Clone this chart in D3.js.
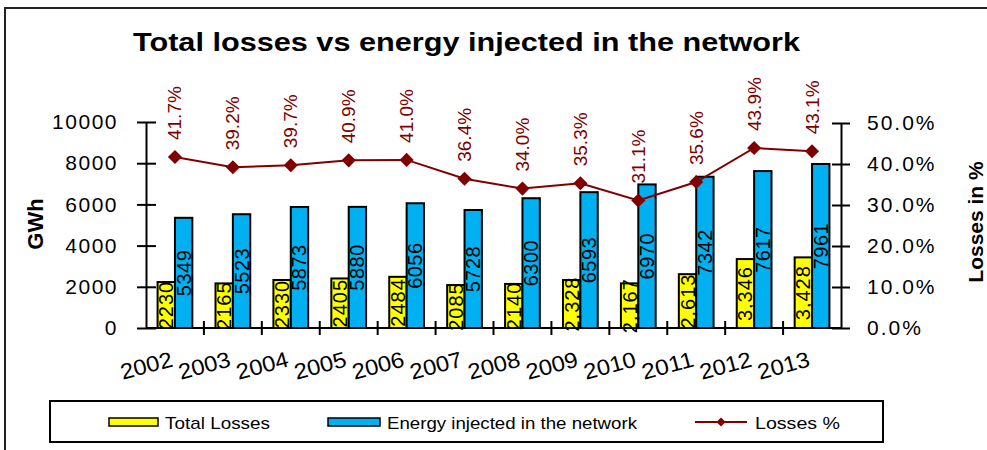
<!DOCTYPE html>
<html>
<head>
<meta charset="utf-8">
<script src="https://cdn.jsdelivr.net/npm/d3@7"></script>
<style>
  html, body { margin: 0; padding: 0; background: #fff; }
  svg { display: block; font-family: "Liberation Sans", Arial, sans-serif; }
</style>
</head>
<body>
<svg id="chart" width="987" height="450"></svg>
<script>
var years = ["2002", "2003", "2004", "2005", "2006", "2007", "2008", "2009", "2010", "2011", "2012", "2013"];
var total_losses = [2230, 2165, 2330, 2405, 2484, 2085, 2140, 2328, 2167, 2613, 3346, 3428];
var loss_labels = ["2230", "2165", "2330", "2405", "2484", "2085", "2140", "2,328", "2,167", "2,613", "3,346", "3,428"];
var energy_injected = [5349, 5523, 5873, 5880, 6056, 5728, 6300, 6593, 6970, 7342, 7617, 7961];
var losses_pct = [41.7, 39.2, 39.7, 40.9, 41.0, 36.4, 34.0, 35.3, 31.1, 35.6, 43.9, 43.1];
var gwh_ticks = [0, 2000, 4000, 6000, 8000, 10000];
var pct_ticks = [0, 10, 20, 30, 40, 50];

var yellow = "#ffff00";
var blue = "#00b0f0";
var red = "#800000";

var svg = d3.select("#chart");
var plot = { left: 146, right: 841, top: 122, bottom: 328 };

// frame
svg.append("rect")
  .attr("x", 5).attr("y", 8).attr("width", 1000).attr("height", 460)
  .attr("fill", "none").attr("stroke", "#222").attr("stroke-width", 2);

svg.append("text")
  .attr("x", 133).attr("y", 51)
  .attr("font-size", 25).attr("font-weight", "bold")
  .attr("textLength", 667).attr("lengthAdjust", "spacingAndGlyphs")
  .text("Total  losses vs energy injected in the network");

// scales
const x = d3.scaleBand().domain(years).range([plot.left, plot.right]);
const y = d3.scaleLinear().domain([0, 10000]).range([plot.bottom, plot.top]);
const y2 = d3.scaleLinear().domain([0, 50]).range([plot.bottom, plot.top + 1]);
const bw = x.bandwidth() * 0.3;
const cx = (d) => x(d) + x.bandwidth() / 2;

// left axis
const left_axis = svg.append("g")
  .attr("transform", `translate(${plot.left},0)`)
  .call(d3.axisLeft(y).tickValues(gwh_ticks).tickSizeOuter(0).tickFormat(d3.format("d")));
left_axis.select(".domain").attr("stroke", "#000").attr("stroke-width", 2);
left_axis.selectAll(".tick line").attr("x1", -9).attr("x2", 10).attr("stroke-width", 2);
left_axis.selectAll(".tick text")
  .attr("x", -28).attr("font-size", 21).attr("fill", "#000")
  .attr("letter-spacing", 1.5)
  .attr("font-family", "Liberation Sans, Arial, sans-serif");

// right axis
const right_axis = svg.append("g")
  .attr("transform", `translate(${plot.right},0)`)
  .call(d3.axisRight(y2).tickValues(pct_ticks).tickSizeOuter(0).tickFormat((d) => d.toFixed(1) + "%"));
right_axis.select(".domain").attr("stroke", "#000").attr("stroke-width", 2);
right_axis.selectAll(".tick line").attr("x1", -9).attr("x2", 9).attr("stroke-width", 2);
right_axis.selectAll(".tick text")
  .attr("x", 26).attr("font-size", 21).attr("fill", "#000")
  .attr("letter-spacing", 2)
  .attr("font-family", "Liberation Sans, Arial, sans-serif");

// axis titles
svg.append("text")
  .attr("transform", "translate(43,224) rotate(-90)")
  .attr("text-anchor", "middle")
  .attr("font-size", 22).attr("font-weight", "bold")
  .text("GWh");
svg.append("text")
  .attr("transform", "translate(983,222) rotate(-90)")
  .attr("text-anchor", "middle")
  .attr("font-size", 21).attr("font-weight", "bold")
  .text("Losses in %");

// x axis
svg.append("line")
  .attr("x1", plot.left).attr("x2", plot.right)
  .attr("y1", plot.bottom).attr("y2", plot.bottom)
  .attr("stroke", "#000").attr("stroke-width", 2);
svg.append("g").selectAll("line")
  .data(years.slice(1))
  .join("line")
  .attr("x1", (d) => x(d)).attr("x2", (d) => x(d))
  .attr("y1", plot.bottom - 7).attr("y2", plot.bottom + 7)
  .attr("stroke", "#000").attr("stroke-width", 2);
svg.append("g").selectAll("text")
  .data(years)
  .join("text")
  .attr("transform", (d) => `translate(${cx(d) - 1},${plot.bottom + 38}) rotate(-15)`)
  .attr("text-anchor", "end")
  .attr("font-size", 22)
  .attr("textLength", 53).attr("lengthAdjust", "spacingAndGlyphs")
  .text((d) => d);

// bars
svg.append("g").selectAll("rect")
  .data(years)
  .join("rect")
  .attr("x", (d) => cx(d) - bw)
  .attr("y", (d, i) => y(total_losses[i]))
  .attr("width", bw)
  .attr("height", (d, i) => plot.bottom - y(total_losses[i]))
  .attr("fill", yellow).attr("stroke", "#000").attr("stroke-width", 2);
svg.append("g").selectAll("rect")
  .data(years)
  .join("rect")
  .attr("x", (d) => cx(d))
  .attr("y", (d, i) => y(energy_injected[i]))
  .attr("width", bw)
  .attr("height", (d, i) => plot.bottom - y(energy_injected[i]))
  .attr("fill", blue).attr("stroke", "#000").attr("stroke-width", 2);

// bar labels
svg.append("g").selectAll("text")
  .data(years)
  .join("text")
  .attr("transform", (d, i) => `translate(${cx(d) - bw / 2},${y(total_losses[i] / 2)}) rotate(-90)`)
  .attr("text-anchor", "middle").attr("dominant-baseline", "central")
  .attr("font-size", 20).attr("letter-spacing", 1)
  .text((d, i) => loss_labels[i]);
svg.append("g").selectAll("text")
  .data(years)
  .join("text")
  .attr("transform", (d, i) => `translate(${cx(d) + bw / 2},${y(energy_injected[i] / 2)}) rotate(-90)`)
  .attr("text-anchor", "middle").attr("dominant-baseline", "central")
  .attr("font-size", 20).attr("letter-spacing", 0.5)
  .text((d, i) => energy_injected[i]);

// losses line
const line = d3.line()
  .x((d) => cx(d))
  .y((d, i) => y2(losses_pct[i]));
svg.append("path")
  .datum(years)
  .attr("fill", "none").attr("stroke", red).attr("stroke-width", 2)
  .attr("d", line);
svg.append("g").selectAll("path")
  .data(years)
  .join("path")
  .attr("transform", (d, i) => `translate(${cx(d)},${y2(losses_pct[i])}) rotate(45)`)
  .attr("d", d3.symbol(d3.symbolSquare, 100))
  .attr("fill", red);
svg.append("g").selectAll("text")
  .data(years)
  .join("text")
  .attr("transform", (d, i) => `translate(${cx(d)},${y2(losses_pct[i]) - 17}) rotate(-90)`)
  .attr("dominant-baseline", "central")
  .attr("font-size", 19).attr("fill", red)
  .text((d, i) => losses_pct[i].toFixed(1) + "%");

// legend
const legend = svg.append("g");
legend.append("rect")
  .attr("x", 50).attr("y", 401).attr("width", 833).attr("height", 41)
  .attr("fill", "#fff").attr("stroke", "#000").attr("stroke-width", 2);
legend.append("rect")
  .attr("x", 109).attr("y", 418).attr("width", 49).attr("height", 8)
  .attr("fill", yellow).attr("stroke", "#000").attr("stroke-width", 1.5);
legend.append("text")
  .attr("x", 165).attr("y", 423).attr("dominant-baseline", "central")
  .attr("font-size", 17).attr("textLength", 105).attr("lengthAdjust", "spacingAndGlyphs")
  .text("Total Losses");
legend.append("rect")
  .attr("x", 328).attr("y", 418).attr("width", 52).attr("height", 8)
  .attr("fill", blue).attr("stroke", "#000").attr("stroke-width", 1.5);
legend.append("text")
  .attr("x", 387).attr("y", 423).attr("dominant-baseline", "central")
  .attr("font-size", 17).attr("textLength", 250).attr("lengthAdjust", "spacingAndGlyphs")
  .text("Energy injected in the network");
legend.append("line")
  .attr("x1", 695).attr("x2", 747).attr("y1", 422).attr("y2", 422)
  .attr("stroke", red).attr("stroke-width", 2);
legend.append("path")
  .attr("transform", "translate(721,422) rotate(45)")
  .attr("d", d3.symbol(d3.symbolSquare, 40))
  .attr("fill", red);
legend.append("text")
  .attr("x", 755).attr("y", 423).attr("dominant-baseline", "central")
  .attr("font-size", 17).attr("textLength", 85).attr("lengthAdjust", "spacingAndGlyphs")
  .text("Losses  %");
</script>
</body>
</html>
